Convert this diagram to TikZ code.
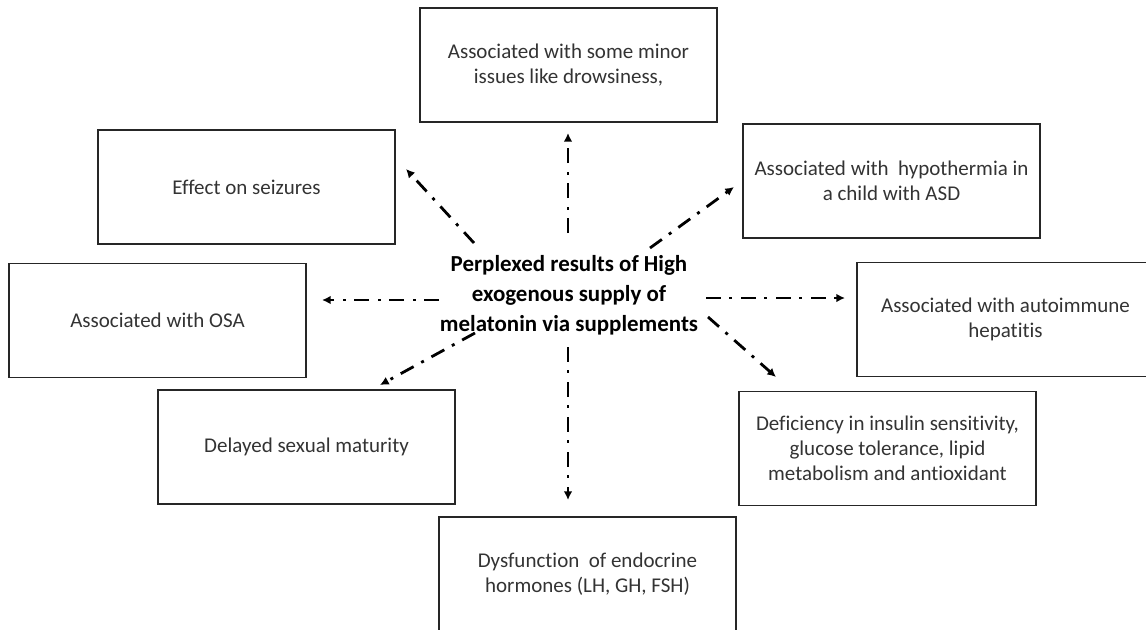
\documentclass[tikz,border=0pt]{standalone}
\usepackage{fontspec}
\setmainfont{Carlito}[Ligatures=NoCommon]
\usetikzlibrary{arrows.meta}

\begin{document}
\begin{tikzpicture}[x=0.75pt,y=-0.75pt,
      effect/.style={draw=black!85,line width=1.4pt,minimum width=222.75pt,minimum height=85.5pt,
         inner sep=0pt,align=center,text=black!80,font=\fontsize{15.75}{18.75}\selectfont},
      hub/.style={align=center,inner sep=0pt,font=\fontsize{17.2}{22.5}\selectfont\bfseries},
      link/.style={line width=2.1pt,dash pattern=on 11pt off 6.5pt on 2.25pt off 6.5pt,
         -{Latex[length=6.5pt,width=6.5pt]}}]
      \clip (0,0) rectangle (1146,629);

      \node[hub] (hub) at (569,295) {Perplexed results of High\\exogenous supply of\\melatonin via supplements};

      \node[effect] (minor)   at (568.5,65)   {Associated with some minor\\issues like drowsiness,};
      \node[effect] (seizure) at (246.5,187)  {Effect on seizures};
      \node[effect] (hypo)    at (891.5,181)  {Associated with\ \ hypothermia in\\a child with ASD};
      \node[effect] (osa)     at (157.5,320.5) {Associated with OSA};
      \node[effect] (hepat)   at (1005.5,319.5) {Associated with autoimmune\\hepatitis};
      \node[effect] (delay)   at (306.5,447)  {Delayed sexual maturity};
      \node[effect] (insulin) at (887.5,448.5) {Deficiency in insulin sensitivity,\\glucose tolerance, lipid\\metabolism and antioxidant};
      \node[effect] (endo)    at (587.5,574)  {Dysfunction\ \ of endocrine\\hormones (LH, GH, FSH)};

      \coordinate (minor-from)   at (568,233); \coordinate (minor-to)   at (568,133);
      \coordinate (seizure-from) at (474,243); \coordinate (seizure-to) at (406,169);
      \coordinate (hypo-from)    at (650,248); \coordinate (hypo-to)    at (734,187);
      \coordinate (osa-from)     at (439,300); \coordinate (osa-to)     at (322,300);
      \coordinate (hepat-from)   at (706,298); \coordinate (hepat-to)   at (845,298);
      \coordinate (delay-from)   at (475,333); \coordinate (delay-to)   at (380,385);
      \coordinate (insulin-from) at (708,317); \coordinate (insulin-to) at (776,377);
      \coordinate (endo-from)    at (568,347); \coordinate (endo-to)    at (568,500);

      \foreach \n in {minor,seizure,hypo,osa,hepat,delay,insulin,endo}
         \draw[link] (\n-from) -- (\n-to);
   \end{tikzpicture}
\end{document}
